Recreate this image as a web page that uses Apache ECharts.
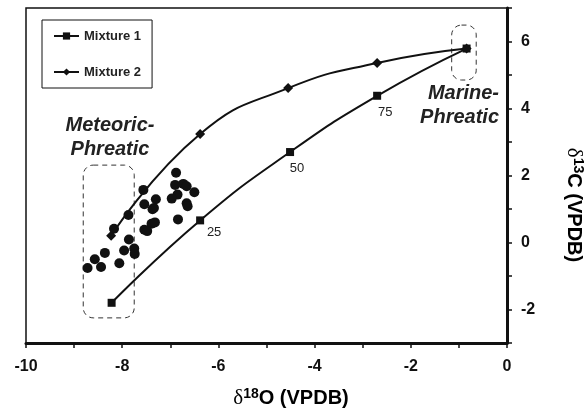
<!DOCTYPE html>
<html>
<head>
<meta charset="utf-8">
<script src="https://cdn.jsdelivr.net/npm/echarts@6/dist/echarts.min.js"></script>
<style>html,body{margin:0;padding:0;background:#fff}#chart{width:587px;height:415px}</style>
</head>
<body>
<div id="chart"></div>
<script>
// mixing lines
var mix1X = [-8.22, -6.38, -4.51, -2.70, -0.84];
var mix1Y = [-1.80, 0.66, 2.70, 4.38, 5.79];
var mix1Pct = ['', '25', '50', '75', ''];
var mix2X = [-8.23, -6.38, -4.55, -2.70, -0.84];
var mix2Y = [0.20, 3.24, 4.61, 5.36, 5.79];
// samples
var sampleX = [-6.88, -6.90, -6.73, -6.66, -6.50, -6.85, -6.97, -6.66, -6.64, -6.84,
    -7.56, -7.54, -7.30, -7.37, -7.34, -7.87, -7.39, -7.32, -7.54, -7.48,
    -8.17, -7.86, -7.96, -7.75, -7.74, -8.36, -8.57, -8.72, -8.44, -8.06];
var sampleY = [2.08, 1.72, 1.75, 1.68, 1.50, 1.43, 1.31, 1.17, 1.08, 0.69,
    1.57, 1.14, 1.29, 0.99, 1.03, 0.82, 0.56, 0.60, 0.38, 0.34,
    0.41, 0.09, -0.24, -0.18, -0.34, -0.31, -0.50, -0.76, -0.73, -0.62];
// end member fields [x0, y0, x1, y1]
var meteoricBox = [-8.81, 2.31, -7.75, -2.25];
var marineBox = [-1.15, 6.49, -0.64, 4.85];

var font = 'Liberation Sans, Arial, sans-serif';

function pairs(xs, ys) {
    var out = [];
    for (var i = 0; i < xs.length; i++) out.push([xs[i], ys[i]]);
    return out;
}

var mix1Data = pairs(mix1X, mix1Y).map(function (p, i) {
    var offs = [[0, 0], [14, 12], [7, 16], [8, 17], [0, 0]];
    return {
        value: p,
        label: {
            show: mix1Pct[i] !== '',
            formatter: mix1Pct[i],
            position: 'inside',
            offset: offs[i],
            color: '#222',
            fontSize: 13,
            fontFamily: font
        }
    };
});

function evenOnly(v) {
    return v % 2 === 0 ? String(v) : '';
}

var myChart = echarts.init(document.getElementById('chart'));
var option = {
    animation: false,
    backgroundColor: '#fff',
    grid: {
        left: 26, right: 80, top: 8, bottom: 72,
        show: true, borderColor: '#111', borderWidth: 1.5
    },
    legend: {
        data: ['Mixture 1', 'Mixture 2'],
        orient: 'vertical',
        left: 42,
        top: 20,
        padding: [9, 11, 9, 11],
        itemGap: 22,
        itemWidth: 25,
        itemHeight: 9,
        borderColor: '#111',
        borderWidth: 1,
        textStyle: { fontFamily: font, fontWeight: 'bold', fontSize: 13, color: '#222', lineHeight: 14 }
    },
    xAxis: {
        type: 'value',
        min: -10, max: 0, interval: 1,
        axisLine: { onZero: false, lineStyle: { color: '#111', width: 3 } },
        axisTick: { length: 5, lineStyle: { color: '#111', width: 1.5 } },
        axisLabel: { formatter: evenOnly, fontFamily: font, fontWeight: 'bold', fontSize: 16, color: '#111', margin: 16 },
        splitLine: { show: false }
    },
    yAxis: {
        type: 'value',
        position: 'right',
        min: -3, max: 7, interval: 1,
        axisLine: { show: true, onZero: false, lineStyle: { color: '#111', width: 3 } },
        axisTick: { show: true, length: 5, lineStyle: { color: '#111', width: 1.5 } },
        axisLabel: { formatter: evenOnly, fontFamily: font, fontWeight: 'bold', fontSize: 16, color: '#111', margin: 14 },
        splitLine: { show: false }
    },
    graphic: [
        {
            type: 'text', x: 110, y: 113, z: 10,
            style: { text: 'Meteoric-\nPhreatic', align: 'center', verticalAlign: 'top', lineHeight: 24,
                fontFamily: font, fontSize: 20, fontWeight: 'bold', fontStyle: 'italic', fill: '#222' }
        },
        {
            type: 'text', x: 499, y: 81, z: 10,
            style: { text: 'Marine-\nPhreatic', align: 'right', verticalAlign: 'top', lineHeight: 24,
                fontFamily: font, fontSize: 20, fontWeight: 'bold', fontStyle: 'italic', fill: '#222' }
        },
        {
            type: 'text', x: 291, y: 398, z: 10,
            style: {
                text: '{d|δ}{s|18}{b|O (VPDB)}', align: 'center', verticalAlign: 'middle',
                rich: {
                    d: { fontFamily: 'Liberation Serif, serif', fontSize: 21, color: '#111' },
                    s: { fontFamily: font, fontSize: 14, fontWeight: 'bold', verticalAlign: 'top', color: '#111', padding: [0, 0, 8, 0] },
                    b: { fontFamily: font, fontSize: 20, fontWeight: 'bold', color: '#111' }
                }
            }
        },
        {
            type: 'text', x: 574, y: 205, z: 10, rotation: -Math.PI / 2,
            style: {
                text: '{d|δ}{s|13}{b|C (VPDB)}', align: 'center', verticalAlign: 'middle',
                rich: {
                    d: { fontFamily: 'Liberation Serif, serif', fontSize: 21, color: '#111' },
                    s: { fontFamily: font, fontSize: 14, fontWeight: 'bold', verticalAlign: 'top', color: '#111', padding: [0, 0, 8, 0] },
                    b: { fontFamily: font, fontSize: 20, fontWeight: 'bold', color: '#111' }
                }
            }
        }
    ],
    series: [
        {
            name: 'fields',
            type: 'custom',
            silent: true,
            clip: false,
            z: 1,
            encode: { x: [0, 2], y: [1, 3] },
            data: [meteoricBox, marineBox],
            renderItem: function (params, api) {
                var p0 = api.coord([api.value(0), api.value(1)]);
                var p1 = api.coord([api.value(2), api.value(3)]);
                var w = p1[0] - p0[0];
                return {
                    type: 'rect',
                    shape: { x: p0[0], y: p0[1], width: w, height: p1[1] - p0[1], r: Math.min(10, w / 2.5) },
                    style: { fill: 'none', stroke: '#333', lineWidth: 1, lineDash: [5, 4] }
                };
            }
        },
        {
            name: 'Samples',
            type: 'scatter',
            symbol: 'circle',
            symbolSize: 10,
            itemStyle: { color: '#111', opacity: 1 },
            z: 3,
            data: pairs(sampleX, sampleY)
        },
        {
            name: 'Mixture 1',
            type: 'line',
            smooth: true,
            symbol: 'rect',
            symbolSize: 8,
            lineStyle: { color: '#111', width: 2 },
            itemStyle: { color: '#111' },
            z: 4,
            data: mix1Data
        },
        {
            name: 'Mixture 2',
            type: 'line',
            smooth: true,
            symbol: 'diamond',
            symbolSize: 10,
            lineStyle: { color: '#111', width: 2 },
            itemStyle: { color: '#111' },
            z: 4,
            data: pairs(mix2X, mix2Y)
        }
    ]
};
myChart.setOption(option);
</script>
</body>
</html>
